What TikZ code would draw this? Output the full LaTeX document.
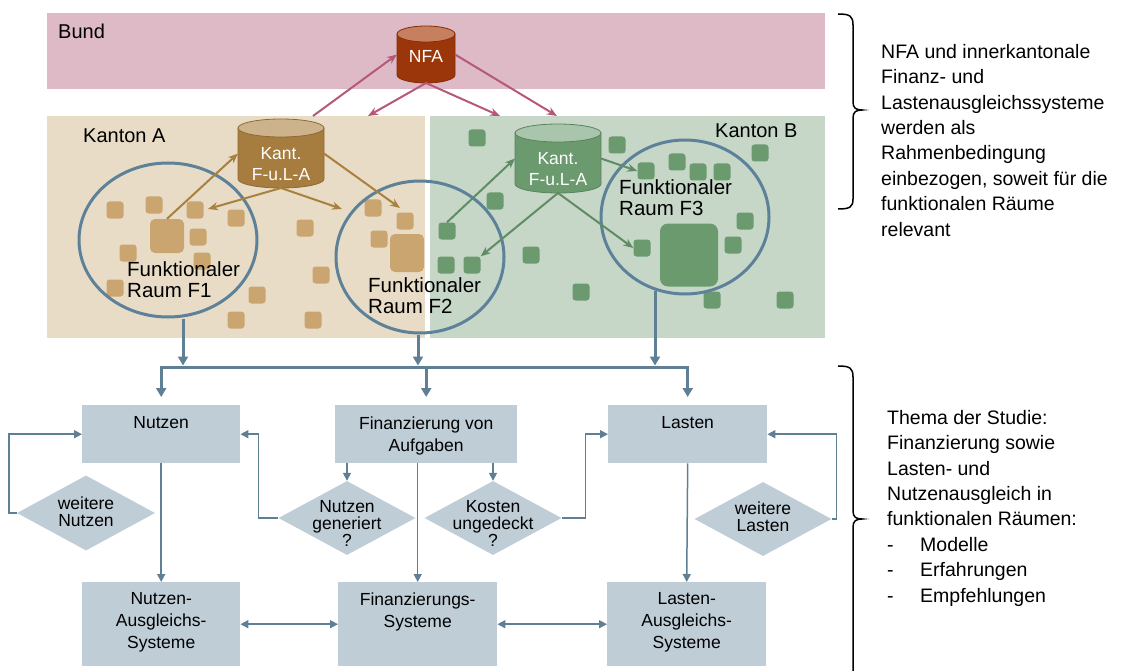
\documentclass[tikz,border=0pt]{standalone}
\usepackage{fontspec}
\setmainfont{Liberation Sans}
\usetikzlibrary{arrows.meta,shapes.geometric,calc}
\definecolor{bundbg}{HTML}{DDBAC6}
\definecolor{kabg}{HTML}{E8DCC6}
\definecolor{kbbg}{HTML}{C6D7C8}
\definecolor{nfabody}{HTML}{9B360A}
\definecolor{nfatop}{HTML}{C68060}
\definecolor{kacyl}{HTML}{A67C3F}
\definecolor{kacyltop}{HTML}{CDB38C}
\definecolor{kbcyl}{HTML}{6A9A6E}
\definecolor{kbcyltop}{HTML}{A9C5AB}
\definecolor{sqa}{HTML}{CAA56F}
\definecolor{sqb}{HTML}{6B9A6F}
\definecolor{ringcol}{HTML}{5D8198}
\definecolor{flowbox}{HTML}{BFCDD6}
\definecolor{flowline}{HTML}{5F7F94}
\definecolor{pinkarr}{HTML}{B5587B}
\definecolor{brownarr}{HTML}{A8813F}
\definecolor{greenarr}{HTML}{5F8C63}
\newcommand\mycyl[7]{%
  \filldraw[fill=#6, draw=#6!85!black, line width=0.8pt] (#1-#4,#2) -- (#1-#4,#3)
    arc[start angle=180, end angle=0, x radius=#4, y radius=#5] -- (#1+#4,#2) -- cycle;
  \filldraw[fill=#7, draw=#6!85!black, line width=0.8pt] (#1,#2) ellipse[x radius=#4, y radius=#5];
}
\tikzset{
  bg/.style={anchor=north west, inner sep=0, outer sep=0},
  sqA/.style={fill=sqa, rounded corners=3pt, minimum size=17pt, inner sep=0},
  sqB/.style={fill=sqb, rounded corners=3pt, minimum size=17pt, inner sep=0},
  ringnode/.style={ellipse, draw=ringcol, line width=3pt, inner sep=0},
  cylnode/.style={inner sep=0, outer sep=0},
  cyltext/.style={text=white, align=center, inner sep=0, font=\fontsize{17.5}{21}\selectfont},
  fraum/.style={anchor=north west, align=left, inner sep=0, font=\fontsize{20.5}{21}\selectfont},
  region/.style={anchor=base west, inner sep=0, font=\fontsize{20}{24}\selectfont},
  fbox/.style={fill=flowbox, inner sep=0, anchor=north west},
  boxtext/.style={anchor=north, align=center, inner sep=0, font=\fontsize{17.5}{22}\selectfont},
  dia/.style={diamond, fill=flowbox, inner sep=0},
  diatext/.style={anchor=north, align=center, inner sep=0, font=\fontsize{17.5}{17}\selectfont},
  flow/.style={draw=flowline, line width=1.5pt, -{Triangle[length=8pt,width=8pt]}},
  biflow/.style={draw=flowline, line width=1.5pt, {Triangle[length=8pt,width=8pt]}-{Triangle[length=8pt,width=8pt]}},
  busline/.style={draw=flowline, line width=3pt},
  busarr/.style={draw=flowline, line width=3pt, -{Triangle[length=9pt,width=10pt]}},
  pinkarrow/.style={draw=pinkarr, line width=2pt, -{Stealth[length=10pt,width=8pt]}},
  brownarrow/.style={draw=brownarr, line width=2pt, -{Stealth[length=10pt,width=8pt]}},
  greenarrow/.style={draw=greenarr, line width=2pt, -{Stealth[length=10pt,width=8pt]}},
  sidetext/.style={anchor=north west, align=left, inner sep=0, font=\fontsize{19.5}{25.4}\selectfont},
  bracepath/.style={draw=black, line width=1.5pt},
}
\begin{document}
\begin{tikzpicture}[x=1pt, y=-1pt]
\useasboundingbox (0,0) rectangle (1137,671);
% backgrounds
\node[bg, fill=bundbg, minimum width=778pt, minimum height=76pt] (bund) at (47,13) {};
\node[bg, fill=kabg, minimum width=378pt, minimum height=222pt] (kantonA) at (47,116) {};
\node[bg, fill=kbbg, minimum width=395pt, minimum height=222pt] (kantonB) at (430,116) {};
\node[region] (bundlbl) at (58,39) {Bund};
\node[region] (kalbl) at (83,143) {Kanton A};
\node[region] (kblbl) at (715,138) {Kanton B};
% squares Kanton A
\node[sqA] (a1) at (115,210) {};
\node[sqA] (a2) at (154,205) {};
\node[sqA] (a3) at (195,210) {};
\node[sqA] (a4) at (236,218) {};
\node[sqA] (a5) at (198,237) {};
\node[sqA] (a6) at (128,253) {};
\node[sqA] (a7) at (202,261) {};
\node[sqA] (a8) at (115,288) {};
\node[sqA] (a9) at (305,228) {};
\node[sqA] (a10) at (321,275) {};
\node[sqA] (a11) at (257,295) {};
\node[sqA] (a12) at (236,320) {};
\node[sqA] (a13) at (313,320) {};
\node[sqA] (a14) at (373,208) {};
\node[sqA] (a15) at (405,221) {};
\node[sqA] (a16) at (379,239) {};
\node[sqA, minimum size=34pt, rounded corners=5pt] (abig1) at (167,236) {};
\node[sqA, minimum width=34pt, minimum height=38pt, rounded corners=5pt] (abig2) at (407,253) {};
% squares Kanton B
\node[sqB] (b1) at (477,138) {};
\node[sqB] (b2) at (495,201) {};
\node[sqB] (b3) at (447,231) {};
\node[sqB] (b4) at (446,265) {};
\node[sqB] (b5) at (472,265) {};
\node[sqB] (b6) at (531,255) {};
\node[sqB] (b7) at (581,292) {};
\node[sqB] (b8) at (617,145) {};
\node[sqB] (b10) at (646,171) {};
\node[sqB] (b11) at (677,162) {};
\node[sqB] (b12) at (698,172) {};
\node[sqB] (b13) at (722,172) {};
\node[sqB] (b14) at (760,153) {};
\node[sqB] (b15) at (745,221) {};
\node[sqB] (b16) at (733,245) {};
\node[sqB] (b17) at (642,248) {};
\node[sqB] (b18) at (712,300) {};
\node[sqB] (b19) at (785,300) {};
\node[sqB, minimum width=58pt, minimum height=63pt, rounded corners=8pt] (bbig) at (689,255) {};
% functional spaces
\node[ringnode, minimum width=178pt, minimum height=154pt] (f1) at (168,240) {};
\node[ringnode, minimum width=168pt, minimum height=152pt] (f2) at (420,257) {};
\node[ringnode, minimum width=168pt, minimum height=154pt] (f3) at (685,217) {};
% cylinders
\mycyl{426}{34}{75}{29}{8}{nfabody}{nfatop}
\mycyl{281}{128}{179}{43}{9}{kacyl}{kacyltop}
\mycyl{558}{133}{184}{43}{9}{kbcyl}{kbcyltop}
\node[cylnode, minimum width=58pt, minimum height=57pt] (nfa) at (426,54.5) {};
\node[cylnode, minimum width=86pt, minimum height=69pt] (kantA) at (281,153.5) {};
\node[cylnode, minimum width=86pt, minimum height=69pt] (kantB) at (558,158.5) {};
\node[cyltext, anchor=north] (nfat) at (426,50) {NFA};
\node[cyltext, anchor=north] (kantAt) at (281,147.5) {Kant.\\F-u.L-A};
\node[cyltext, anchor=north] (kantBt) at (558,152.5) {Kant.\\F-u.L-A};
% arrow end points on the cantons
\coordinate (ka1) at (313,116);
\coordinate (ka2) at (368,116);
\coordinate (kb1) at (500,116);
\coordinate (kb2) at (557,116);
\coordinate (ct1) at (208,209);
\coordinate (ct2) at (342,209);
\coordinate (ct3) at (400,208);
% pink arrows
\draw[pinkarrow] (ka1) -- (nfa.west);
\draw[pinkarrow] (nfa.south) -- (ka2);
\draw[pinkarrow] (nfa.south) -- (kb1);
\draw[pinkarrow] (nfa.east) -- (kb2);
% brown arrows
\draw[brownarrow] (abig1.north) -- (kantA.west);
\draw[brownarrow] (kantA.south) -- (ct1);
\draw[brownarrow] (kantA.south) -- (ct2);
\draw[brownarrow] (kantA.east) -- (ct3);
% green arrows
\draw[greenarrow] (b3.north) -- (kantB.west);
\draw[greenarrow] (kantB.south) -- (b5.north east);
\draw[greenarrow] (kantB.south) -- (b17.west);
\draw[greenarrow] (kantB.east) -- (b10.west);
% texts of functional spaces
\node[fraum] (f1t) at (127,261) {Funktionaler\\Raum F1};
\node[fraum] (f2t) at (368,277) {Funktionaler\\Raum F2};
\node[fraum] (f3t) at (619,179) {Funktionaler\\Raum F3};
% flow boxes
\node[fbox, minimum width=158pt, minimum height=58pt] (nutzen) at (82,405) {};
\node[fbox, minimum width=182pt, minimum height=58pt] (finanz) at (335,405) {};
\node[fbox, minimum width=159pt, minimum height=58pt] (lasten) at (608,405) {};
\node[fbox, minimum width=158pt, minimum height=84pt] (nas) at (82,582) {};
\node[fbox, minimum width=159pt, minimum height=84pt] (fs) at (338,582) {};
\node[fbox, minimum width=159pt, minimum height=84pt] (las) at (607,582) {};
\node[boxtext] (nutzent) at ([yshift=-11.5pt]nutzen.north) {Nutzen};
\node[boxtext] (finanzt) at ([yshift=-11.5pt]finanz.north) {Finanzierung von\\Aufgaben};
\node[boxtext] (lastent) at ([yshift=-11.5pt]lasten.north) {Lasten};
\node[boxtext] (nast) at ([yshift=-10.5pt]nas.north) {Nutzen-\\Ausgleichs-\\Systeme};
\node[boxtext] (fst) at ([yshift=-10.5pt]fs.north) {Finanzierungs-\\Systeme};
\node[boxtext] (last) at ([yshift=-10.5pt]las.north) {Lasten-\\Ausgleichs-\\Systeme};
% diamonds
\node[dia, minimum width=138pt, minimum height=75pt] (wn) at (86,513) {};
\node[dia, minimum width=137pt, minimum height=74pt] (ng) at (347,518) {};
\node[dia, minimum width=137pt, minimum height=74pt] (kd) at (493,518) {};
\node[dia, minimum width=137pt, minimum height=74pt] (wl) at (763,519) {};
\node[diatext] (wnt) at (86,496.5) {weitere\\Nutzen};
\node[diatext] (ngt) at (347,500.5) {Nutzen\\generiert\\?};
\node[diatext] (kdt) at (493,500.5) {Kosten\\ungedeckt\\?};
\node[diatext] (wlt) at (763,501.5) {weitere\\Lasten};
% bus from the functional spaces
\coordinate (busy) at (0,367);
\coordinate (c1) at (183,367);
\coordinate (c2) at (418,367);
\coordinate (c3) at (655,367);
\draw[busarr, shorten >=1.5pt] (f1.south -| c1) -- (c1);
\draw[busarr, shorten >=1.5pt] (f2.south -| c2) -- (c2);
\draw[busarr, shorten >=1.5pt] (f3.250 -| c3) -- (c3);
\draw[busline, line cap=rect] (nutzen.north |- busy) -- (lasten.north |- busy);
\draw[busarr, shorten >=8pt] (nutzen.north |- busy) -- (nutzen.north);
\draw[busarr, shorten >=8pt] (finanz.north |- busy) -- (finanz.north);
\draw[busarr, shorten >=8pt] (lasten.north |- busy) -- (lasten.north);
% flow connectors
\draw[flow] (nutzen.south) -- (nas.north);
\draw[flow] (fs.north |- finanz.south) -- (fs.north);
\draw[flow] (lasten.south) -- (las.north);
\draw[flow] (ng.north |- finanz.south) -- (ng.north);
\draw[flow] (kd.north |- finanz.south) -- (kd.north);
\draw[flow] (wn.west) -- ++(-8,0) |- (nutzen.west);
\draw[flow] (ng.west) -- ++(-20,0) |- (nutzen.east);
\draw[flow] (kd.east) -- ++(24,0) |- (lasten.west);
\draw[flow] (wl.east) -- ++(5,0) |- (lasten.east);
\draw[biflow] (nas.east) -- (fs.west);
\draw[biflow] (fs.east) -- (las.west);
% braces and side texts
\draw[bracepath] (838,14) .. controls (850,14) and (853,16) .. (853,25) -- (853,102)
  .. controls (853,108) and (856,110) .. (862,110) .. controls (856,110) and (853,112) .. (853,118)
  -- (853,199) .. controls (853,207) and (850,209) .. (838,209);
\draw[bracepath] (838,366) .. controls (850,366) and (853,368) .. (853,377) -- (853,511)
  .. controls (853,517) and (856,519) .. (862,519) .. controls (856,519) and (853,521) .. (853,527)
  -- (853,680);
\node[sidetext] (side1) at (881,44) {NFA und innerkantonale\\Finanz- und\\Lastenausgleichssysteme\\werden als\\Rahmenbedingung\\einbezogen, soweit für die\\funktionalen Räume\\relevant};
\node[sidetext] (side2) at (887,410) {Thema der Studie:\\Finanzierung sowie\\Lasten- und\\Nutzenausgleich in\\funktionalen Räumen:\\\makebox[33pt][l]{-}Modelle\\\makebox[33pt][l]{-}Erfahrungen\\\makebox[33pt][l]{-}Empfehlungen};
\end{tikzpicture}
\end{document}
